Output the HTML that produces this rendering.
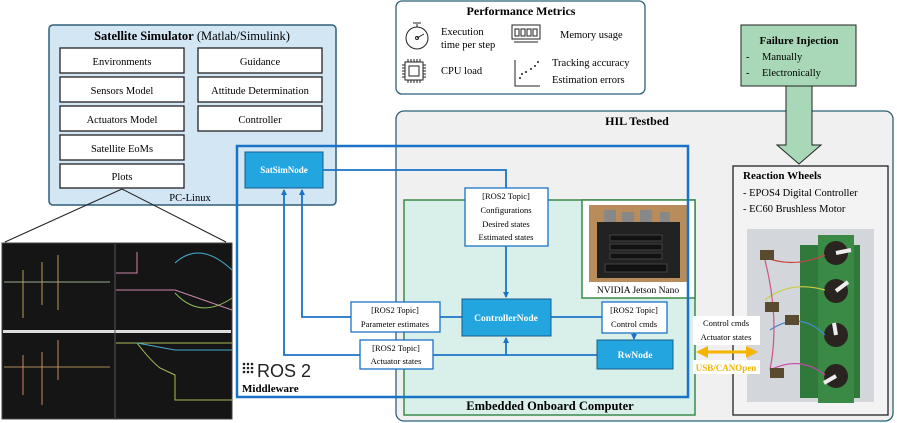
<!DOCTYPE html>
<html><head><meta charset="utf-8"><style>
html,body{margin:0;padding:0;background:#fff;}
svg{display:block;font-family:"Liberation Serif",serif;}
</style></head><body>
<svg width="897" height="423" viewBox="0 0 897 423" xmlns="http://www.w3.org/2000/svg">
<defs>
<marker id="a" markerWidth="6" markerHeight="6" refX="5" refY="3" orient="auto" markerUnits="userSpaceOnUse"><path d="M0,0 L6,3 L0,6 z" fill="#1a73c7"/></marker>
</defs>
<rect x="49" y="25" width="287" height="180" rx="4" fill="#d3e6f4" stroke="#2e5f78" stroke-width="1.5"/>
<text x="192" y="40" text-anchor="middle" font-size="12.5"><tspan font-weight="bold">Satellite Simulator</tspan> (Matlab/Simulink)</text>
<g fill="#fff" stroke="#222" stroke-width="1.3">
<rect x="60" y="48" width="124" height="25"/><rect x="60" y="77" width="124" height="25"/><rect x="60" y="106" width="124" height="25"/><rect x="60" y="135" width="124" height="25"/><rect x="60" y="164" width="124" height="24"/>
<rect x="198" y="48" width="124" height="25"/><rect x="198" y="77" width="124" height="25"/><rect x="198" y="106" width="124" height="25"/>
</g>
<g font-size="10.5" text-anchor="middle">
<text x="122" y="65">Environments</text><text x="122" y="94">Sensors Model</text><text x="122" y="123">Actuators Model</text><text x="122" y="152">Satellite EoMs</text><text x="122" y="180">Plots</text>
<text x="260" y="65">Guidance</text><text x="260" y="94">Attitude Determination</text><text x="260" y="123">Controller</text>
<text x="190" y="201">PC-Linux</text>
</g>
<line x1="122" y1="189" x2="5" y2="242" stroke="#222"/><line x1="122" y1="189" x2="226" y2="242" stroke="#222"/>
<rect x="2" y="243" width="230" height="176" fill="#151515" stroke="#444"/>
<rect x="3" y="330" width="228" height="3" fill="#ddd"/>
<line x1="115" y1="244" x2="115" y2="418" stroke="#555"/>
<g fill="none" stroke-width="1">
<path d="M4,282 H110" stroke="#9a8"/><path d="M23,270 V318 M42,262 V305 M58,255 V310" stroke="#b95"/>
<path d="M4,367 H110" stroke="#a85"/><path d="M23,355 V395 M42,352 V405 M58,340 V380" stroke="#c86"/>
<path d="M116,273 H137 V252 M116,290 H175 L232,310" stroke="#c8a"/><path d="M175,263 Q200,240 232,270" stroke="#4ac"/><path d="M175,293 Q200,320 232,298" stroke="#8b5"/>
<path d="M116,343 H232 M137,343 Q150,360 160,368 L175,375 V400 H232" stroke="#ab5"/><path d="M137,343 L175,350 H232" stroke="#4ac"/>
</g>
<rect x="396" y="1" width="249" height="93" rx="6" fill="#fff" stroke="#2e5f78" stroke-width="1.3"/>
<text x="521" y="15" text-anchor="middle" font-size="12" font-weight="bold">Performance Metrics</text>
<g font-size="10.5"><text x="441" y="35">Execution</text><text x="441" y="48">time per step</text><text x="560" y="38">Memory usage</text><text x="441" y="74">CPU load</text><text x="552" y="66">Tracking accuracy</text><text x="552" y="83">Estimation errors</text></g>
<g fill="none" stroke="#222" stroke-width="1">
<circle cx="417" cy="38" r="11"/><line x1="417" y1="27" x2="417" y2="24"/><line x1="413" y1="23" x2="421" y2="23"/><line x1="417" y1="38" x2="424" y2="34"/><circle cx="417" cy="38" r="1.5"/>
<rect x="512" y="25" width="28" height="14"/><rect x="515" y="29" width="4" height="7"/><rect x="521" y="29" width="4" height="7"/><rect x="527" y="29" width="4" height="7"/><rect x="533" y="29" width="4" height="7"/><line x1="514" y1="42" x2="538" y2="42"/>
<rect x="405" y="62" width="18" height="18"/><rect x="409" y="66" width="10" height="10"/><path d="M408,59v3M411,59v3M414,59v3M417,59v3M420,59v3M408,80v3M411,80v3M414,80v3M417,80v3M420,80v3M402,65h3M402,68h3M402,71h3M402,74h3M402,77h3M423,65h3M423,68h3M423,71h3M423,74h3M423,77h3"/>
<path d="M515,60 V86 H540"/>
</g>
<g fill="#222"><circle cx="520" cy="78" r="1"/><circle cx="526" cy="72" r="1"/><circle cx="531" cy="69" r="1"/><circle cx="535" cy="66" r="1"/><circle cx="538" cy="62" r="1"/><circle cx="522" cy="74" r="1"/></g>
<rect x="396" y="111" width="497" height="310" rx="8" fill="#f0f0f0" stroke="#2e5f78" stroke-width="1.3"/>
<text x="637" y="125" text-anchor="middle" font-size="12" font-weight="bold">HIL Testbed</text>
<path d="M786,86 V145 H777 L799,164 L821,145 H812 V86" fill="#a8d8b8" stroke="#222" stroke-width="1"/>
<rect x="741" y="25" width="115" height="61" fill="#a8d8b8" stroke="#222" stroke-width="1"/>
<text x="799" y="44" text-anchor="middle" font-size="11" font-weight="bold">Failure Injection</text>
<g font-size="10.5"><text x="746" y="60">-</text><text x="762" y="60">Manually</text><text x="746" y="76">-</text><text x="762" y="76">Electronically</text></g>
<rect x="733" y="166" width="155" height="249" fill="#f3f3f3" stroke="#222" stroke-width="1.3"/>
<text x="743" y="179" font-size="11" font-weight="bold">Reaction Wheels</text>
<g font-size="10.5"><text x="743" y="196">- EPOS4 Digital Controller</text><text x="743" y="212">- EC60 Brushless Motor</text></g>
<rect x="747" y="229" width="127" height="173" fill="#d3d6da"/>
<path d="M800,245 H860 V398 H800 Z" fill="#2f7a3a"/><rect x="818" y="235" width="36" height="168" fill="#3a8a45"/>
<g fill="#2a2420"><circle cx="836" cy="253" r="12"/><circle cx="836" cy="291" r="12"/><circle cx="836" cy="335" r="12"/><circle cx="836" cy="376" r="12"/></g>
<g stroke="#eee" stroke-width="4"><line x1="836" y1="253" x2="851" y2="250"/><line x1="836" y1="291" x2="848" y2="282"/><line x1="836" y1="335" x2="834" y2="323"/><line x1="836" y1="376" x2="824" y2="383"/></g>
<g fill="none" stroke-width="1.2"><path d="M760,255 Q790,270 825,255" stroke="#c44"/><path d="M765,300 Q790,280 825,290" stroke="#cc4"/><path d="M770,330 Q800,310 825,335" stroke="#48c"/><path d="M770,370 Q800,355 825,375" stroke="#c4a"/><path d="M765,260 Q780,320 770,370" stroke="#c58"/></g>
<g fill="#5a4a30"><rect x="760" y="250" width="14" height="10"/><rect x="765" y="302" width="14" height="10"/><rect x="785" y="315" width="14" height="10"/><rect x="770" y="368" width="14" height="10"/></g>
<rect x="404" y="200" width="291" height="215" fill="#d9efe9" stroke="#3a8a4a" stroke-width="1.5"/>
<text x="550" y="410" text-anchor="middle" font-size="12.5" font-weight="bold">Embedded Onboard Computer</text>
<rect x="582" y="200" width="113" height="98" fill="#fff" stroke="#3a8a4a" stroke-width="1.5"/>
<rect x="589" y="205" width="99" height="77" fill="#b98c5c"/>
<rect x="597" y="222" width="83" height="56" fill="#222"/>
<g fill="#111" stroke="#444"><rect x="610" y="235" width="52" height="6"/><rect x="610" y="244" width="52" height="6"/><rect x="610" y="253" width="52" height="6"/><rect x="605" y="264" width="62" height="8"/></g>
<g fill="#888"><rect x="604" y="210" width="12" height="12"/><rect x="622" y="212" width="12" height="10"/><rect x="640" y="210" width="12" height="12"/><rect x="660" y="212" width="10" height="10"/></g>
<text x="638" y="293" text-anchor="middle" font-size="9.5">NVIDIA Jetson Nano</text>
<rect x="237" y="146" width="451" height="251" fill="none" stroke="#1a73c7" stroke-width="2.5"/>
<rect x="245" y="152" width="78" height="36" fill="#23a6e0" stroke="#1a5c8c" stroke-width="1"/>
<text x="284" y="173" text-anchor="middle" font-size="9" font-weight="bold" fill="#fff">SatSimNode</text>
<g font-family="Liberation Sans,sans-serif"><g fill="#222"><circle cx="244" cy="364" r="1.3"/><circle cx="248" cy="364" r="1.3"/><circle cx="252" cy="364" r="1.3"/><circle cx="244" cy="368" r="1.3"/><circle cx="248" cy="368" r="1.3"/><circle cx="252" cy="368" r="1.3"/><circle cx="244" cy="372" r="1.3"/><circle cx="248" cy="372" r="1.3"/><circle cx="252" cy="372" r="1.3"/></g>
<text x="257" y="377" font-size="18" fill="#222">ROS 2</text></g>
<text x="242" y="392" font-size="11" font-weight="bold">Middleware</text>
<g fill="none" stroke="#1a73c7" stroke-width="1.8">
<path d="M323,170 H506 V188"/>
<path d="M506,246 V297" marker-end="url(#a)"/>
<path d="M462,317 H302 V190" marker-end="url(#a)"/>
<path d="M597,355 H284 V190" marker-end="url(#a)"/>
<path d="M506,355 V338" marker-end="url(#a)"/>
<path d="M551,317 H602"/>
<path d="M634,333 V339" marker-end="url(#a)"/>
</g>
<g fill="#fff" stroke="#1a73c7" stroke-width="1.3">
<rect x="465" y="188" width="83" height="58"/>
<rect x="351" y="302" width="89" height="30"/>
<rect x="360" y="340" width="73" height="29"/>
<rect x="602" y="302" width="65" height="31"/>
</g>
<g font-size="8.5" text-anchor="middle">
<text x="506" y="199">[ROS2 Topic]</text><text x="506" y="213">Configurations</text><text x="506" y="227">Desired states</text><text x="506" y="240">Estimated states</text>
<text x="395" y="313">[ROS2 Topic]</text><text x="395" y="327">Parameter estimates</text>
<text x="396" y="351">[ROS2 Topic]</text><text x="396" y="364">Actuator states</text>
<text x="634" y="313">[ROS2 Topic]</text><text x="634" y="327">Control cmds</text>
</g>
<rect x="462" y="299" width="89" height="37" fill="#23a6e0" stroke="#1a5c8c"/>
<text x="506" y="321" text-anchor="middle" font-size="9.5" font-weight="bold" fill="#fff">ControllerNode</text>
<rect x="597" y="340" width="76" height="29" fill="#23a6e0" stroke="#1a5c8c"/>
<text x="635" y="358" text-anchor="middle" font-size="9.5" font-weight="bold" fill="#fff">RwNode</text>
<rect x="693" y="316" width="67" height="29" fill="#fff"/>
<text x="726" y="326" text-anchor="middle" font-size="8.5">Control cmds</text>
<text x="726" y="340" text-anchor="middle" font-size="8.5">Actuator states</text>
<line x1="706" y1="352" x2="746" y2="352" stroke="#f5b400" stroke-width="3"/>
<path d="M696,352 L708,346 V358 Z M758,352 L746,346 V358 Z" fill="#f5b400"/>
<rect x="693" y="360" width="67" height="14" fill="#fff"/>
<text x="726" y="371" text-anchor="middle" font-size="9" font-weight="bold" fill="#f5b400">USB/CANOpen</text>
</svg>
</body></html>
